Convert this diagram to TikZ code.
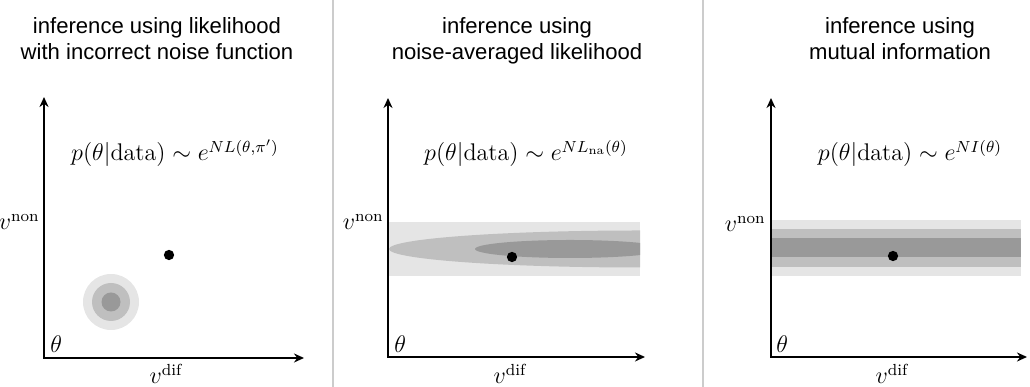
\documentclass[tikz,border=0pt]{standalone}
\usepackage{fontspec}
\setsansfont{Liberation Sans}
\usetikzlibrary{arrows.meta}
\definecolor{lightband}{gray}{0.90}
\definecolor{midband}{gray}{0.75}
\definecolor{darkband}{gray}{0.60}
\definecolor{sepgray}{gray}{0.80}

\begin{document}
\begin{tikzpicture}[
    x=0.0175cm, y=0.0175cm,
    title/.style={align=center, font=\sffamily\fontsize{11}{13}\selectfont, anchor=north, inner sep=0pt},
    formula/.style={font=\large, anchor=base, inner sep=0pt},
    lbl/.style={font=\large, inner sep=0pt},
    axis/.style={{Stealth[length=5pt,width=4.5pt]}-{Stealth[length=5pt,width=4.5pt]}, line width=1pt},
    sep/.style={draw=sepgray, line width=1.2pt},
    truth/.style={circle, fill=black, inner sep=0pt, minimum size=0.18cm}
]
\useasboundingbox (0,0) rectangle (1030,387);

% panel separators
\coordinate (s1t) at (333,387); \coordinate (s1b) at (333,0);
\coordinate (s2t) at (703,387); \coordinate (s2b) at (703,0);
\draw[sep] (s1t) -- (s1b);
\draw[sep] (s2t) -- (s2b);

% titles
\node[title] (T1) at (157,370) {inference using likelihood\\with incorrect noise function};
\node[title] (T2) at (517,370) {inference using\\noise-averaged likelihood};
\node[title] (T3) at (900,370) {inference using\\mutual information};

% panel 1: shifted likelihood peak
\fill[lightband] (111,85) circle (28);
\fill[midband] (111,85) circle (19);
\fill[darkband] (111,85) circle (9.5);

% panel 2: noise-averaged likelihood
\begin{scope}
  \clip (389,111) rectangle (640,165);
  \fill[lightband] (389,111) rectangle (640,165);
  \fill[midband] (640,138) ellipse [x radius=251, y radius=18.5];
  \fill[darkband] (570,138) ellipse [x radius=95, y radius=9];
\end{scope}

% panel 3: mutual information
\fill[lightband] (771,111) rectangle (1021,167);
\fill[midband] (771,120) rectangle (1021,158);
\fill[darkband] (771,130) rectangle (1021,149);

% axes
\coordinate (t1) at (44,290);  \coordinate (r1) at (304,29);
\coordinate (t2) at (388,289); \coordinate (r2) at (645,30);
\coordinate (t3) at (771,289); \coordinate (r3) at (1027,30);
\draw[axis] (t1) |- (r1);
\draw[axis] (t2) |- (r2);
\draw[axis] (t3) |- (r3);

% true parameter
\node[truth] (d1) at (169,132) {};
\node[truth] (d2) at (512,130) {};
\node[truth] (d3) at (893,131) {};

% formulas
\node[formula] (F1) at (175,226) {$p(\theta|\mathrm{data})\sim e^{NL(\theta,\pi')}$};
\node[formula] (F2) at (526,226) {$p(\theta|\mathrm{data})\sim e^{NL_{\mathrm{na}}(\theta)}$};
\node[formula] (F3) at (910,226) {$p(\theta|\mathrm{data})\sim e^{NI(\theta)}$};

% axis labels
\node[lbl, anchor=base east] (vn1) at (40,157) {$v^{\mathrm{non}}$};
\node[lbl, anchor=base east] (vn2) at (384,157) {$v^{\mathrm{non}}$};
\node[lbl, anchor=base east] (vn3) at (766,155) {$v^{\mathrm{non}}$};
\node[lbl, anchor=base west] (th1) at (50,34) {$\theta$};
\node[lbl, anchor=base west] (th2) at (394,34) {$\theta$};
\node[lbl, anchor=base west] (th3) at (776,34) {$\theta$};
\node[lbl, anchor=base] (vd1) at (166,3) {$v^{\mathrm{dif}}$};
\node[lbl, anchor=base] (vd2) at (510,3) {$v^{\mathrm{dif}}$};
\node[lbl, anchor=base] (vd3) at (892,3) {$v^{\mathrm{dif}}$};
\end{tikzpicture}
\end{document}
